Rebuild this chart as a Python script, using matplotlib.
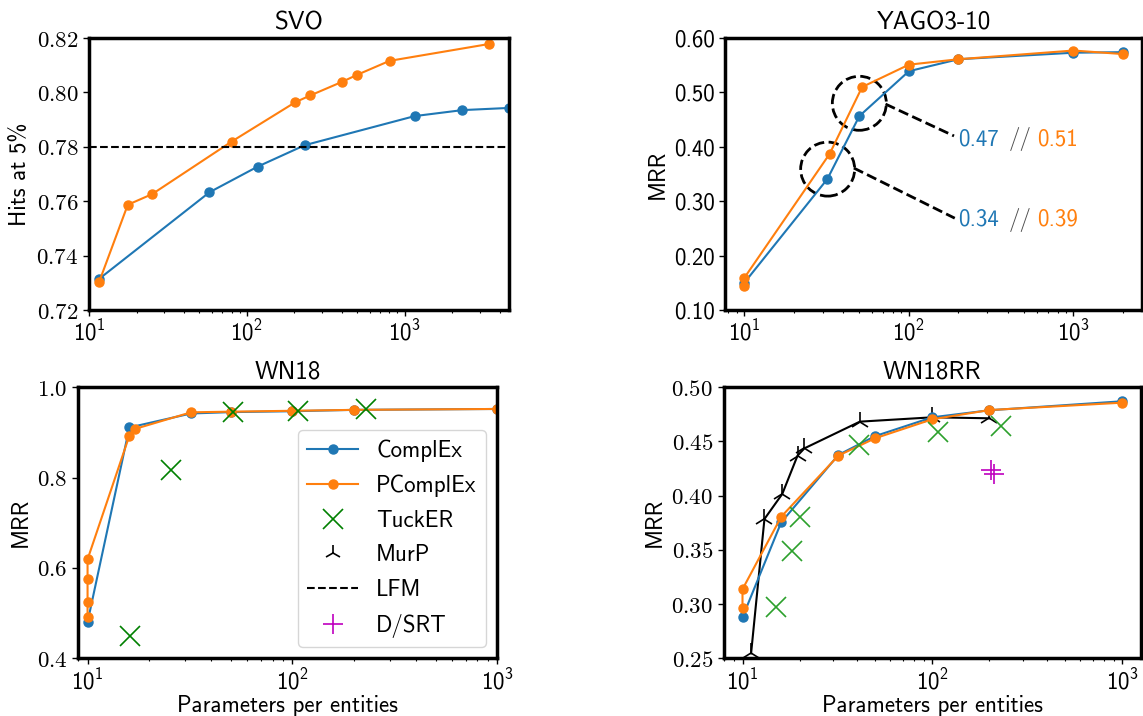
import matplotlib
matplotlib.use("Agg")
import matplotlib.pyplot as plt
from matplotlib.lines import Line2D
from matplotlib.patches import Circle
from matplotlib.transforms import ScaledTranslation, offset_copy
from matplotlib.ticker import FuncFormatter, MultipleLocator

plt.rcParams['font.family'] = ['cmss10', 'DejaVu Sans']
plt.rcParams['mathtext.fontset'] = 'cm'
plt.rcParams['axes.unicode_minus'] = False

BLUE = '#1f77b4'
ORANGE = '#ff7f0e'

# ---------------- data ----------------
# SVO (Hits at 5%)
svo_complex_x = [11.5, 58, 117, 233, 1160, 2330, 4600]
svo_complex_y = [0.7313, 0.7633, 0.7727, 0.7806, 0.7913, 0.7935, 0.7943]
svo_pcomplex_x = [11.6, 17.6, 25.1, 80, 203, 253, 402, 502, 803, 3430]
svo_pcomplex_y = [0.7304, 0.7587, 0.7626, 0.7819, 0.7964, 0.7989, 0.8039, 0.8065, 0.8116, 0.8178]
svo_lfm = 0.78

# YAGO3-10 (MRR)
yago_complex_x = [10, 32, 50, 100, 200, 1000, 2000]
yago_complex_y = [0.150, 0.341, 0.4565, 0.539, 0.561, 0.573, 0.574]
yago_pcomplex_x = [10, 10, 33, 52, 100, 200, 1000, 2000]
yago_pcomplex_y = [0.145, 0.159, 0.387, 0.510, 0.551, 0.561, 0.577, 0.5705]
yago_labels_low = ['0.34', '0.39']
yago_labels_high = ['0.47', '0.51']

# WN18 (MRR)
wn18_complex_x = [10, 16, 32, 50, 100, 200, 1000]
wn18_complex_y = [0.480, 0.911, 0.942, 0.945, 0.947, 0.950, 0.952]
wn18_pcomplex_x = [10, 10, 10, 10, 16, 17, 32, 50, 100, 200, 1000]
wn18_pcomplex_y = [0.492, 0.524, 0.5755, 0.619, 0.893, 0.9077, 0.9446, 0.946, 0.948, 0.950, 0.952]
wn18_tucker_x = [16.2, 25.5, 51, 106, 228]
wn18_tucker_y = [0.449, 0.817, 0.946, 0.9475, 0.952]

# WN18RR (MRR)
wn18rr_complex_x = [10, 16, 32, 50, 100, 200, 1000]
wn18rr_complex_y = [0.2878, 0.3755, 0.4376, 0.455, 0.4723, 0.4788, 0.4871]
wn18rr_pcomplex_x = [10, 10, 16, 32, 50, 100, 200, 1000]
wn18rr_pcomplex_y = [0.296, 0.3137, 0.3806, 0.437, 0.453, 0.4705, 0.479, 0.4858]
wn18rr_murp_x = [11.1, 13.05, 16.2, 19.5, 21.2, 41.5, 100, 200]
wn18rr_murp_y = [0.2546, 0.3785, 0.4016, 0.437, 0.4437, 0.4683, 0.4723, 0.4714]
wn18rr_tucker_x = [15.1, 18.2, 20.2, 41, 107, 230]
wn18rr_tucker_y = [0.297, 0.3487, 0.3806, 0.4465, 0.459, 0.4643]
wn18rr_dsrt_x = [203, 212]
wn18rr_dsrt_y = [0.4237, 0.4197]

legend_labels = ['ComplEx', 'PComplEx', 'TuckER', 'MurP', 'LFM', 'D/SRT']

# ---------------- figure ----------------
FS = 16.5
fig = plt.figure(figsize=(11.43, 7.16), dpi=100)
ax_svo = fig.add_axes([0.0779, 0.567, 0.3675, 0.3799])
ax_yago = fig.add_axes([0.6346, 0.567, 0.3645, 0.3799])
ax_wn18 = fig.add_axes([0.0684, 0.0806, 0.3667, 0.3785])
ax_wnrr = fig.add_axes([0.6330, 0.0806, 0.3654, 0.3785])

line_kw = dict(marker='o', markersize=6.5, linewidth=1.5)


def style(ax, title, ylabel, serif_y=True, fmt='%.2f'):
    ax.set_xscale('log')
    ax.set_title(title, fontsize=18)
    ax.set_ylabel(ylabel, fontsize=FS)
    for s in ax.spines.values():
        s.set_linewidth(2.5)
    ax.tick_params(axis='both', which='major', labelsize=FS, length=4, width=1)
    ax.tick_params(axis='x', which='minor', length=2, width=0.8)
    if serif_y:
        ax.yaxis.set_major_formatter(FuncFormatter(lambda v, p: r'$%s$' % (fmt % v)))
    else:
        ax.yaxis.set_major_formatter(FuncFormatter(lambda v, p: fmt % v))


# SVO
ax = ax_svo
ax.plot(svo_complex_x, svo_complex_y, color=BLUE, **line_kw)
ax.plot(svo_pcomplex_x, svo_pcomplex_y, color=ORANGE, **line_kw)
ax.axhline(svo_lfm, color='k', linestyle='--', linewidth=1.5)
ax.set_xlim(10, 4600)
ax.set_ylim(0.72, 0.82)
ax.yaxis.set_major_locator(MultipleLocator(0.02))
style(ax, 'SVO', 'Hits at 5%')

# YAGO3-10
ax = ax_yago
ax.plot(yago_complex_x, yago_complex_y, color=BLUE, **line_kw)
ax.plot(yago_pcomplex_x, yago_pcomplex_y, color=ORANGE, **line_kw)
ax.set_ylim(0.1, 0.6)
ax.yaxis.set_major_locator(MultipleLocator(0.1))
style(ax, 'YAGO3-10', 'MRR', serif_y=False)
circ_r = 0.27  # inches
for (cx, cy) in [(32.1, 0.359), (50, 0.48)]:
    tr = fig.dpi_scale_trans + ScaledTranslation(cx, cy, ax.transData)
    c = Circle((0, 0), circ_r, transform=tr, fill=False, edgecolor='k',
               linestyle='--', linewidth=2, clip_on=False)
    ax.add_artist(c)
ax.plot([72.1, 188], [0.4786, 0.420], color='k', linestyle='--', linewidth=2)
ax.plot([46.3, 190], [0.361, 0.2688], color='k', linestyle='--', linewidth=2)
for labs, ty in [(yago_labels_high, 0.414), (yago_labels_low, 0.2657)]:
    ax.text(200, ty, labs[0], color=BLUE, fontsize=FS, va='center', ha='left')
    ax.text(200, ty, '//', color='0.3', fontsize=FS, va='center', ha='left',
            transform=offset_copy(ax.transData, fig=fig, x=50, y=0, units='dots'))
    ax.text(200, ty, labs[1], color=ORANGE, fontsize=FS, va='center', ha='left',
            transform=offset_copy(ax.transData, fig=fig, x=79, y=0, units='dots'))

# WN18
ax = ax_wn18
ax.plot(wn18_complex_x, wn18_complex_y, color=BLUE, **line_kw)
ax.plot(wn18_pcomplex_x, wn18_pcomplex_y, color=ORANGE, **line_kw)
ax.plot(wn18_tucker_x, wn18_tucker_y, linestyle='none', marker='x', markersize=14,
        markeredgewidth=1.2, color='g')
ax.set_xlim(9, 1000)
ax.set_ylim(0.4, 1.0)
ax.yaxis.set_major_locator(MultipleLocator(0.2))
style(ax, 'WN18', 'MRR', fmt='%.1f')
ax.set_xlabel('Parameters per entities', fontsize=FS, labelpad=1)
handles = [
    Line2D([], [], color=BLUE, **line_kw),
    Line2D([], [], color=ORANGE, **line_kw),
    Line2D([], [], color='g', linestyle='none', marker='x', markersize=14, markeredgewidth=1.2),
    Line2D([], [], color='k', linestyle='none', marker='2', markersize=12, markeredgewidth=1.2),
    Line2D([], [], color='k', linestyle='--', linewidth=1.5),
    Line2D([], [], color='m', linestyle='none', marker='+', markersize=14, markeredgewidth=1.2),
]
ax.legend(handles, legend_labels, loc='lower right', fontsize=FS, handlelength=2.2,
          numpoints=1, labelspacing=0.55, borderpad=0.4)

# WN18RR
ax = ax_wnrr
ax.plot(wn18rr_murp_x, wn18rr_murp_y, color='k', marker='2', markersize=14,
        markeredgewidth=1.2, linewidth=1.5)
ax.plot(wn18rr_complex_x, wn18rr_complex_y, color=BLUE, **line_kw)
ax.plot(wn18rr_pcomplex_x, wn18rr_pcomplex_y, color=ORANGE, **line_kw)
ax.plot(wn18rr_tucker_x, wn18rr_tucker_y, linestyle='none', marker='x', markersize=14,
        markeredgewidth=1.2, color='tab:green')
ax.plot(wn18rr_dsrt_x, wn18rr_dsrt_y, linestyle='none', marker='+', markersize=14,
        markeredgewidth=1.2, color='m')
ax.set_ylim(0.25, 0.5)
ax.yaxis.set_major_locator(MultipleLocator(0.05))
style(ax, 'WN18RR', 'MRR')
ax.set_xlabel('Parameters per entities', fontsize=FS, labelpad=1)

fig.savefig('out.png', dpi=100)
